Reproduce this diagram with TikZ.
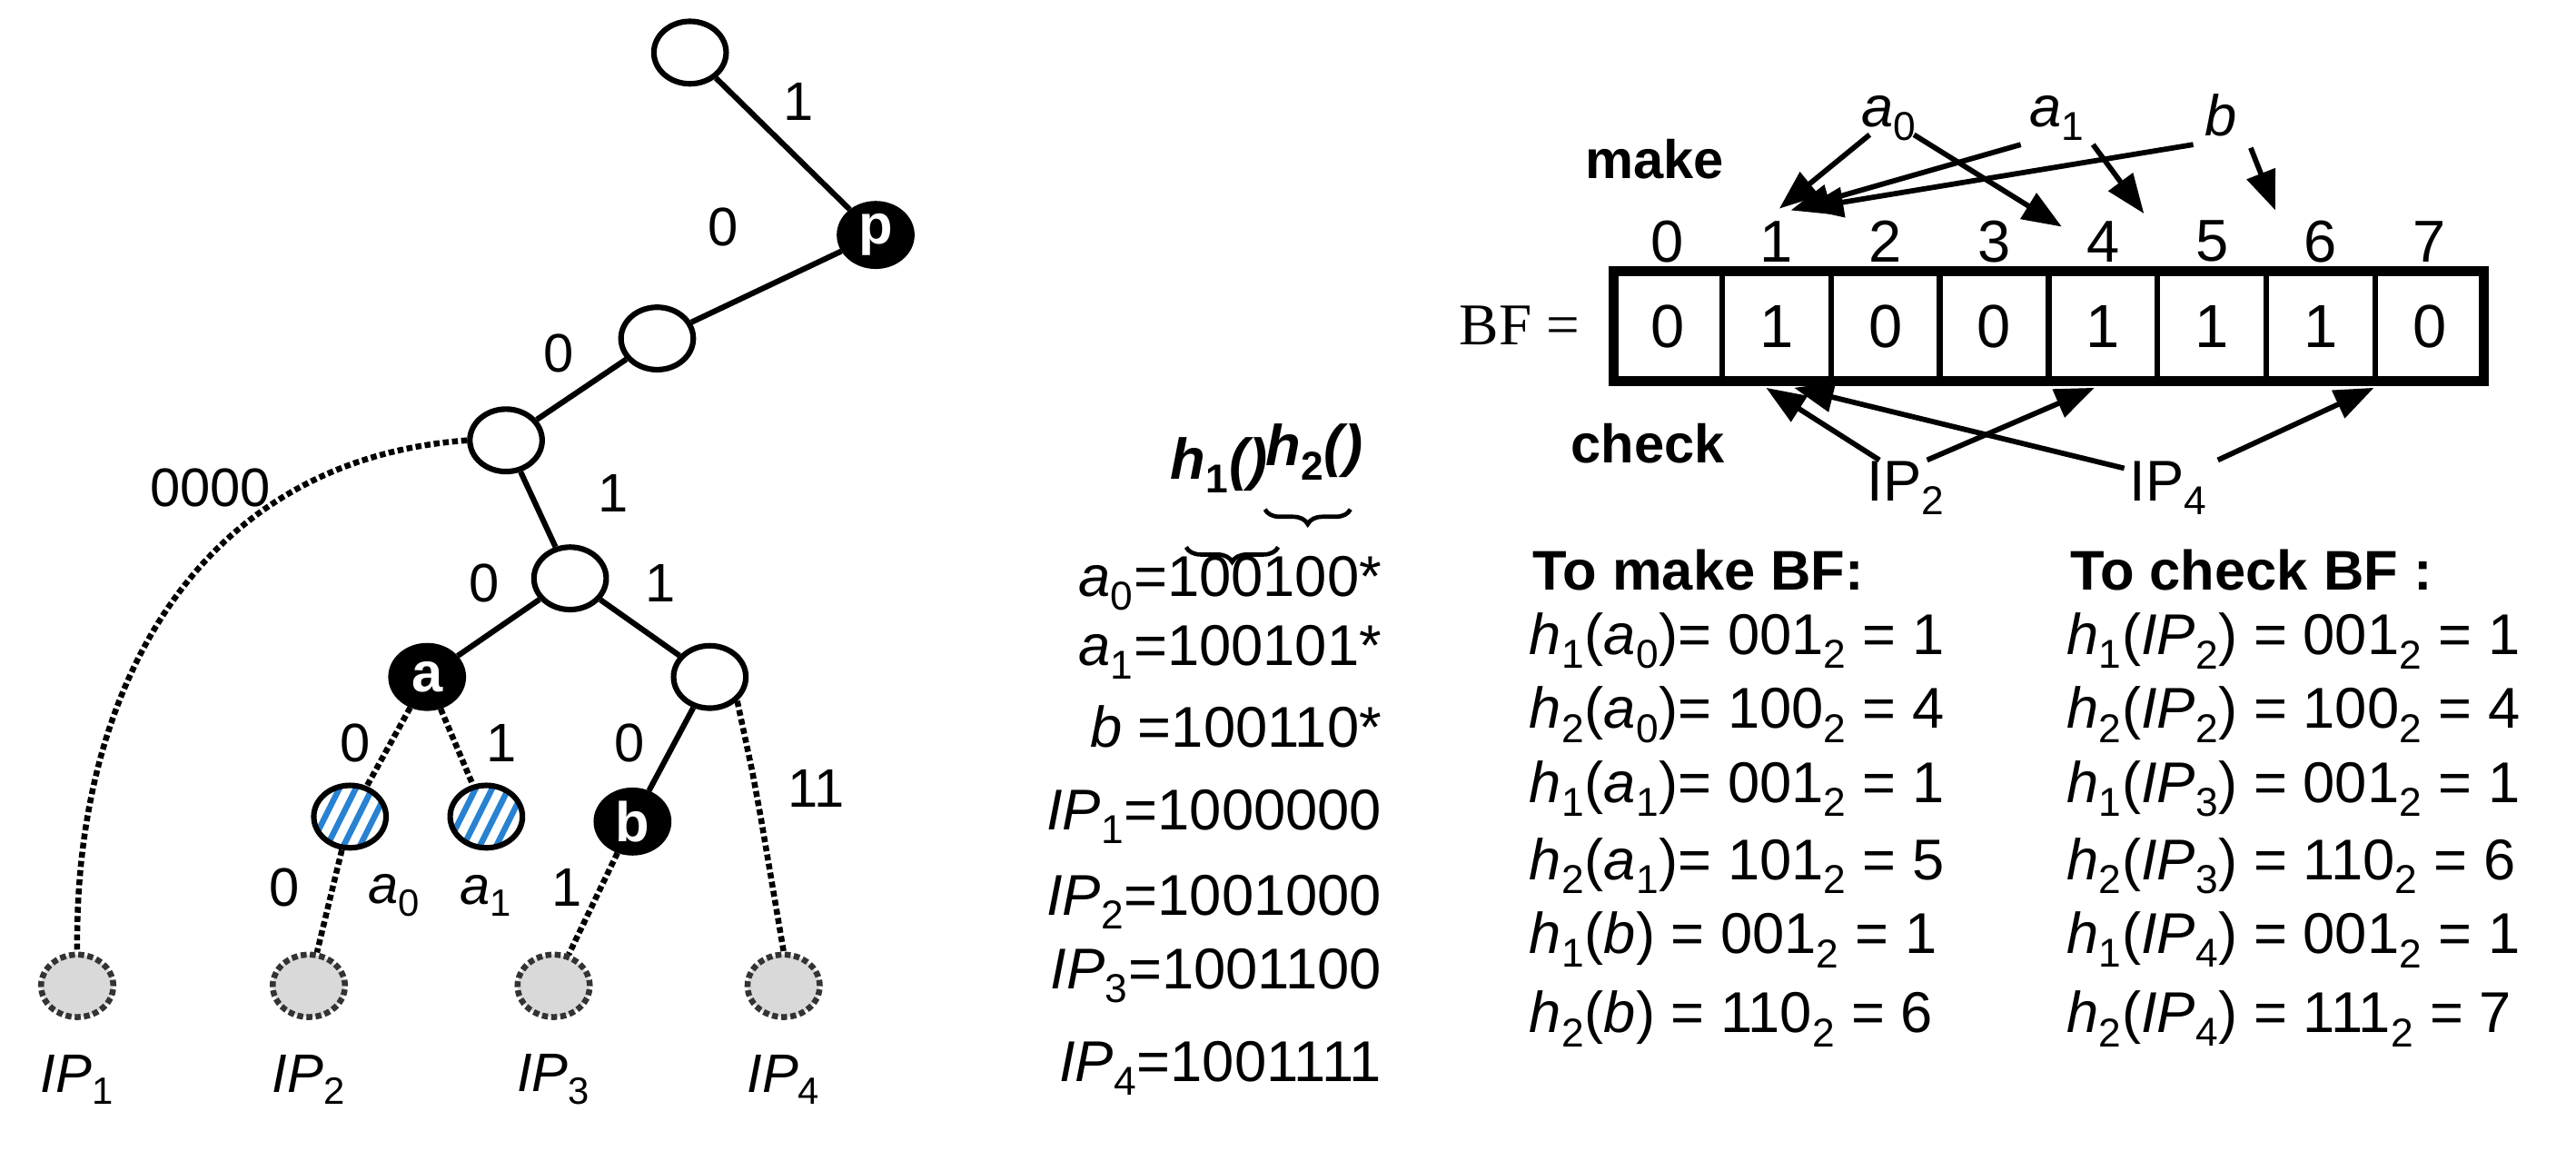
\documentclass[tikz,border=0pt]{standalone}
\usepackage{fontspec}
\setmainfont{Liberation Sans}
\newfontfamily\serf{Liberation Serif}
\usetikzlibrary{arrows.meta,decorations.pathreplacing,shapes.geometric}
\begin{document}
\begin{tikzpicture}[x=1pt,y=-1pt,line width=3.4pt,
  tn/.style={draw,ellipse,minimum width=44pt,minimum height=38pt,inner sep=0pt,fill=white},
  bn/.style={tn,fill=black,text=white,font=\fontsize{34}{34}\selectfont\bfseries},
  ipn/.style={tn,fill=gray!30,dotted,line width=3.6pt,draw=black!80},
  hn/.style={tn,path picture={\foreach \k in {-60,-50,...,60}{\draw[line width=3.6pt,color={rgb,255:red,40;green,130;blue,210}] ([xshift=\k pt,yshift=-30pt]path picture bounding box.center)--++(30pt,60pt);}}},
  dl/.style={dotted,line width=3.6pt},
  lb/.style={font=\fontsize{33}{33}\selectfont},
  tx/.style={font=\fontsize{35}{40}\selectfont},
  ar/.style={-{Triangle[length=24pt,width=18pt]},line width=3.2pt},
  cell/.style={draw,minimum width=66.25pt,minimum height=67pt,inner sep=0pt,line width=3.5pt,font=\fontsize{37}{37}\selectfont}]
\useasboundingbox (0,0) rectangle (1568,700);
% tree
\node[tn] (r) at (420,32) {};
\node[bn] (p) at (533,143) {p};
\node[tn] (n2) at (400,206) {};
\node[tn] (n3) at (308,268) {};
\node[tn] (n4) at (347,352) {};
\node[bn] (a) at (260,412) {a};
\node[tn] (n5) at (432,412) {};
\node[hn] (a0) at (213,497) {};
\node[hn] (a1) at (296,497) {};
\node[bn] (b) at (385,500) {b};
\node[ipn] (ip1) at (47,600) {};
\node[ipn] (ip2) at (188,600) {};
\node[ipn] (ip3) at (337,600) {};
\node[ipn] (ip4) at (477,600) {};
\draw (r)--(p) (p)--(n2) (n2)--(n3) (n3)--(n4) (n4)--(a) (n4)--(n5) (n5)--(b);
\draw[dl] (n3.west) .. controls (120,280) and (45,420) .. (ip1.north);
\draw[dl] (a)--(a0) (a)--(a1) (a0)--(ip2) (b)--(ip3);
\coordinate (k) at (463,497);
\draw[dl] (n5.south east)--(458,470)--(k)--(ip4.north);
\foreach \t/\x/\y in {1/486/62,0/440/138,0/340/215,0000/128/297,1/373/300,0/295/355,1/402/355,0/216/452,1/305/452,0/383/452,11/497/480,0/173/540,1/345/540}
  \node[lb] at (\x,\y) {\t};
\node[lb] at (240,545) {\itshape a\textsubscript{\upshape 0}};
\node[lb] at (296,545) {\itshape a\textsubscript{\upshape 1}};
\foreach \i/\x in {1/47,2/188,3/337,4/477}
  \node[lb] at (\x,657) {\itshape IP\textsubscript{\upshape\i}};
% middle
\node[tx] at (742,283) {\bfseries\itshape h\textsubscript{\upshape 1}()};
\node[tx] at (800,275) {\bfseries\itshape h\textsubscript{\upshape 2}()};
\draw[decorate,decoration={brace,amplitude=9pt},line width=2.6pt] (778,333)--(722,333);
\draw[decorate,decoration={brace,amplitude=9pt},line width=2.6pt] (822,310)--(770,310);
\foreach \t/\y in {{\itshape a\textsubscript{\upshape 0}}=100100*/355,{\itshape a\textsubscript{\upshape 1}}=100101*/397,{\itshape b} =100110*/442,{\itshape IP\textsubscript{\upshape 1}}=1000000/497,{\itshape IP\textsubscript{\upshape 2}}=1001000/549,{\itshape IP\textsubscript{\upshape 3}}=1001100/594,{\itshape IP\textsubscript{\upshape 4}}=1001111/650}
  \node[tx,anchor=east] at (846,\y) {\t};
% BF
\node[font=\fontsize{36}{36}\selectfont\serf] at (925,198) {BF =};
\foreach \i/\v in {0/0,1/1,2/0,3/0,4/1,5/1,6/1,7/0}{
  \node[cell] (c\i) at ({1015.1+66.25*\i},198.5) {\v};
  \node[font=\fontsize{36}{36}\selectfont] (t\i) at ({1015.1+66.25*\i},147) {\i};}
\draw[line width=6pt] (982,165) rectangle (1512,232);
\node[font=\fontsize{33}{33}\selectfont\bfseries] at (1007,97) {make};
\node[font=\fontsize{33}{33}\selectfont\bfseries] at (1003,270) {check};
\node[tx] (la0) at (1150,72) {\itshape a\textsubscript{\upshape 0}};
\node[tx] (la1) at (1252,72) {\itshape a\textsubscript{\upshape 1}};
\node[tx] (lb) at (1352,70) {\itshape b};
\node[tx] (i2) at (1160,297) {IP\textsubscript{2}};
\node[tx] (i4) at (1320,297) {IP\textsubscript{4}};
\coordinate (u1) at (1083,127); \coordinate (u1b) at (1090,128); \coordinate (u1c) at (1098,127);
\draw[ar] (1138,82)--(u1);
\draw[ar] (1165,82)--(1255,138);
\draw[ar] (1230,88)--(u1b);
\draw[ar] (1274,88)--(1305,130);
\draw[ar] (1335,88)--(u1c);
\draw[ar] (1370,90)--(1385,128);
\draw[ar] (1144,280)--(1075,236);
\draw[ar] (1173,280)--(1275,236);
\draw[ar] (1293,285)--(1092,236);
\draw[ar] (1350,280)--(1445,236);
% tables
\node[tx,anchor=west,font=\fontsize{34}{34}\selectfont\bfseries] at (928,347) {To make BF:};
\node[tx,anchor=west,font=\fontsize{34}{34}\selectfont\bfseries] at (1255,347) {To check BF :};
\foreach \t/\y in {{\itshape h\textsubscript{\upshape 1}}({\itshape a\textsubscript{\upshape 0}})= 001\textsubscript{2} = 1/390,
 {\itshape h\textsubscript{\upshape 2}}({\itshape a\textsubscript{\upshape 0}})= 100\textsubscript{2} = 4/435,
 {\itshape h\textsubscript{\upshape 1}}({\itshape a\textsubscript{\upshape 1}})= 001\textsubscript{2} = 1/480,
 {\itshape h\textsubscript{\upshape 2}}({\itshape a\textsubscript{\upshape 1}})= 101\textsubscript{2} = 5/527,
 {\itshape h\textsubscript{\upshape 1}}({\itshape b}) = 001\textsubscript{2} = 1/572,
 {\itshape h\textsubscript{\upshape 2}}({\itshape b}) = 110\textsubscript{2} = 6/620}
  \node[tx,anchor=west] at (926,\y) {\t};
\foreach \t/\y in {{\itshape h\textsubscript{\upshape 1}}({\itshape IP\textsubscript{\upshape 2}}) = 001\textsubscript{2} = 1/390,
 {\itshape h\textsubscript{\upshape 2}}({\itshape IP\textsubscript{\upshape 2}}) = 100\textsubscript{2} = 4/435,
 {\itshape h\textsubscript{\upshape 1}}({\itshape IP\textsubscript{\upshape 3}}) = 001\textsubscript{2} = 1/480,
 {\itshape h\textsubscript{\upshape 2}}({\itshape IP\textsubscript{\upshape 3}}) = 110\textsubscript{2} = 6/527,
 {\itshape h\textsubscript{\upshape 1}}({\itshape IP\textsubscript{\upshape 4}}) = 001\textsubscript{2} = 1/572,
 {\itshape h\textsubscript{\upshape 2}}({\itshape IP\textsubscript{\upshape 4}}) = 111\textsubscript{2} = 7/620}
  \node[tx,anchor=west] at (1253,\y) {\t};
\end{tikzpicture}
\end{document}
